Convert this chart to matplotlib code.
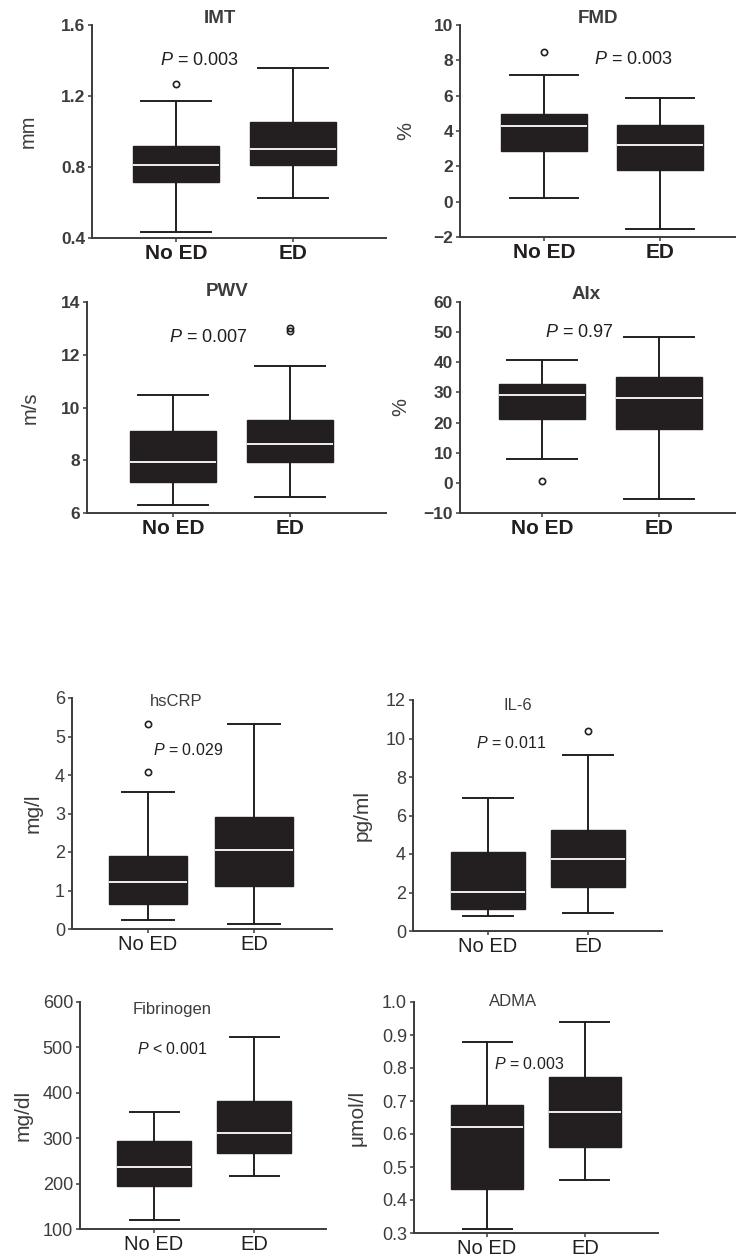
import matplotlib
matplotlib.use('Agg')
import matplotlib.pyplot as plt

plt.rcParams['mathtext.fontset'] = 'custom'
plt.rcParams['mathtext.it'] = 'Liberation Sans:italic'
plt.rcParams['mathtext.rm'] = 'Liberation Sans'

groups = ['No ED', 'ED']

titles = ['IMT', 'FMD', 'PWV', 'AIx', 'hsCRP', 'IL-6', 'Fibrinogen', 'ADMA']
units = ['mm', '%', 'm/s', '%', 'mg/l', 'pg/ml', 'mg/dl', 'μmol/l']
p_texts = ['= 0.003', '= 0.003', '= 0.007', '= 0.97',
           '= 0.029', '= 0.011', '< 0.001', '= 0.003']

# box stats: low whisker, q1, median, q3, high whisker
imt_noed = [0.434, 0.717, 0.814, 0.916, 1.174]
imt_ed = [0.627, 0.811, 0.904, 1.052, 1.356]
fmd_noed = [0.22, 2.88, 4.31, 4.97, 7.19]
fmd_ed = [-1.53, 1.79, 3.20, 4.33, 5.89]
pwv_noed = [6.30, 7.17, 7.93, 9.10, 10.46]
pwv_ed = [6.61, 7.95, 8.61, 9.53, 11.58]
aix_noed = [7.9, 21.3, 29.0, 32.9, 40.9]
aix_ed = [-5.3, 18.0, 28.1, 35.1, 48.5]
crp_noed = [0.23, 0.64, 1.23, 1.89, 3.57]
crp_ed = [0.12, 1.12, 2.04, 2.90, 5.33]
il6_noed = [0.78, 1.13, 2.01, 4.12, 6.93]
il6_ed = [0.95, 2.30, 3.72, 5.25, 9.13]
fib_noed = [120, 195, 237, 293, 357]
fib_ed = [216, 267, 311, 383, 523]
adma_noed = [0.312, 0.432, 0.621, 0.689, 0.878]
adma_ed = [0.462, 0.560, 0.667, 0.772, 0.939]

# outliers
imt_out = [[1.268], []]
fmd_out = [[8.49], []]
pwv_out = [[], [12.9, 13.02]]
aix_out = [[0.6], []]
crp_out = [[4.07, 5.33], []]
il6_out = [[], [10.41]]
fib_out = [[], []]
adma_out = [[], []]

boxes = [(imt_noed, imt_ed), (fmd_noed, fmd_ed), (pwv_noed, pwv_ed),
         (aix_noed, aix_ed), (crp_noed, crp_ed), (il6_noed, il6_ed),
         (fib_noed, fib_ed), (adma_noed, adma_ed)]
outliers = [imt_out, fmd_out, pwv_out, aix_out, crp_out, il6_out,
            fib_out, adma_out]

yticks = [[0.4, 0.8, 1.2, 1.6],
          [-2, 0, 2, 4, 6, 8, 10],
          [6, 8, 10, 12, 14],
          [-10, 0, 10, 20, 30, 40, 50, 60],
          [0, 1, 2, 3, 4, 5, 6],
          [0, 2, 4, 6, 8, 10, 12],
          [100, 200, 300, 400, 500, 600],
          [0.3, 0.4, 0.5, 0.6, 0.7, 0.8, 0.9, 1.0]]
ytick_fmt = ['{:.1f}', '{:g}', '{:g}', '{:g}', '{:g}', '{:g}', '{:g}', '{:.1f}']

# layout (pixels: left, right, top, bottom) and x limits
W, H = 736, 1259
frames = [(92, 386, 25, 238), (460, 736, 25, 237),
          (87, 386, 302, 513), (460, 736, 302, 513),
          (72, 332, 698, 929), (413, 662, 700, 931),
          (80, 326, 1002, 1229), (414, 658, 1002, 1233)]
xlims = [(0.282, 2.795), (0.276, 2.655), (0.265, 2.82), (0.30, 2.66),
         (0.283, 2.736), (0.25, 2.74), (0.26, 2.72), (0.255, 2.745)]
p_pos = [(1.2, 1.40), (1.77, 8.02), (1.30, 12.65), (1.32, 49.75),
         (1.38, 4.65), (1.23, 9.78), (1.18, 496), (1.43, 0.813)]
title_pos = [(0.435, 1.03), (0.5, 1.03), (0.47, 1.05), (0.456, 1.035),
             (0.40, 0.987), (0.42, 0.978), (0.374, 0.965), (0.406, 1.0)]
ylab_x = [-0.218, -0.196, -0.19, -0.214, -0.15, -0.205, -0.232, -0.234]
capw = [0.6, 0.58, 0.6, 0.6, 0.49, 0.5, 0.49, 0.5]

top_font = ['Liberation Sans', 'DejaVu Sans']
bot_font = ['Liberation Sans', 'DejaVu Sans']
ink = '#231f20'
grey = '#3c3c3c'

fig = plt.figure(figsize=(W / 100, H / 100), dpi=100)

for i in range(8):
    l, r, t, b = frames[i]
    ax = fig.add_axes([l / W, 1 - b / H, (r - l) / W, (b - t) / H])
    top = i < 4
    fam = top_font if top else bot_font

    stats = []
    for j in range(2):
        lo, q1, med, q3, hi = boxes[i][j]
        stats.append(dict(whislo=lo, q1=q1, med=med, q3=q3, whishi=hi,
                          fliers=outliers[i][j], label=groups[j]))
    ax.bxp(stats, positions=[1, 2], widths=0.74, patch_artist=True,
           capwidths=capw[i],
           boxprops=dict(facecolor=ink, edgecolor=ink, linewidth=1),
           medianprops=dict(color='white', linewidth=1.3),
           whiskerprops=dict(color=ink, linewidth=1.4),
           capprops=dict(color=ink, linewidth=1.4),
           flierprops=dict(marker='o', markersize=4.5, markerfacecolor='none',
                           markeredgecolor=ink, markeredgewidth=1.2))

    ax.set_xlim(*xlims[i])
    ax.set_ylim(yticks[i][0], yticks[i][-1])
    ax.set_yticks(yticks[i])
    ax.set_yticklabels([ytick_fmt[i].format(v).replace('-', '\u2212')
                        for v in yticks[i]], family=fam,
                       fontsize=12.5 if top else 13, color=grey,
                       weight='bold' if top else 'normal')
    ax.set_xticks([1, 2])
    ax.set_xticklabels(groups, family=fam, fontsize=15 if top else 14.5,
                       color=ink, weight='bold' if top else 'normal')
    ax.tick_params(axis='both', length=3, width=1.1, color=grey, pad=2)
    ax.tick_params(axis='x', pad=1)
    for s in ['top', 'right']:
        ax.spines[s].set_visible(False)
    for s in ['left', 'bottom']:
        ax.spines[s].set_color(grey)
        ax.spines[s].set_linewidth(1.4)

    ax.set_ylabel(units[i], family=fam, fontsize=14.5 if top else 15,
                  color=grey, va='center')
    ax.yaxis.set_label_coords(ylab_x[i], 0.5)

    ax.text(title_pos[i][0], title_pos[i][1], titles[i], transform=ax.transAxes,
            ha='center', va='center', family=fam,
            fontsize=13.5 if top else 12, color=grey,
            weight='bold' if top else 'normal')
    ax.text(p_pos[i][0], p_pos[i][1], '$P$ ' + p_texts[i], ha='center',
            va='center', family=fam, fontsize=13 if top else 11.5, color=ink)

fig.savefig('out.png', dpi=100)
